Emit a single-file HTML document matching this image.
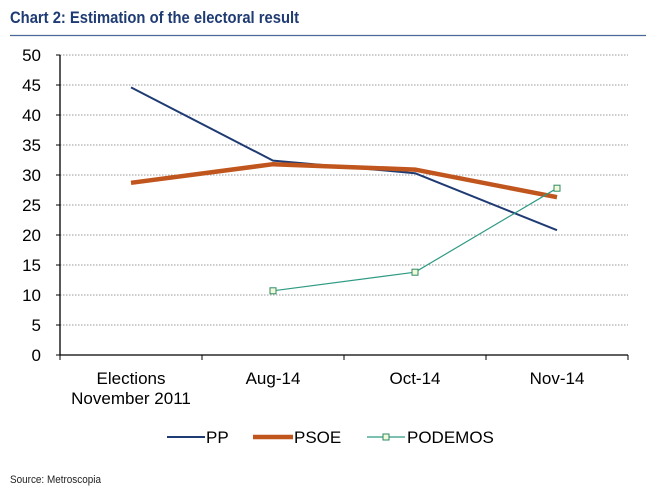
<!DOCTYPE html>
<html><head><meta charset="utf-8"><style>
body{margin:0;background:#fff;width:646px;height:493px;overflow:hidden;font-family:"Liberation Sans",sans-serif}
</style></head><body>
<svg width="646" height="493" xmlns="http://www.w3.org/2000/svg">
<text x="10" y="23" font-size="17" font-weight="bold" fill="#1f3b73" textLength="289" lengthAdjust="spacingAndGlyphs">Chart 2: Estimation of the electoral result</text>
<line x1="10" y1="35.5" x2="646" y2="35.5" stroke="#4a6a96" stroke-width="1.2"/>
<g id="grid"></g><g id="axes"></g><g id="series"></g>
<g font-size="17" fill="#000">
<line x1="167" y1="437" x2="205" y2="437" stroke="#1f3b73" stroke-width="2"/>
<text x="206" y="443">PP</text>
<line x1="253" y1="437" x2="293" y2="437" stroke="#c0561e" stroke-width="4.5"/>
<text x="294" y="443">PSOE</text>
<line x1="367" y1="437" x2="405" y2="437" stroke="#2e9a83" stroke-width="1.2"/>
<rect x="383" y="434" width="6" height="6" fill="#f2fbd8" stroke="#2e8a6a"/>
<text x="407" y="443">PODEMOS</text>
</g>
<text x="10" y="483" font-size="11" fill="#222" textLength="91" lengthAdjust="spacingAndGlyphs">Source: Metroscopia</text>
</svg>
<script>
const categories=[["Elections","November 2011"],["Aug-14"],["Oct-14"],["Nov-14"]];
const yTicks=[0,5,10,15,20,25,30,35,40,45,50];
const pp=[44.6,32.4,30.3,20.8];
const psoe=[28.7,31.8,30.9,26.3];
const podemos=[null,10.7,13.8,27.8];
const NS="http://www.w3.org/2000/svg";
const L=60,R=628,T=55,B=355,yMax=50;
const band=(R-L)/categories.length;
const x=i=>L+band*(i+0.5);
const y=v=>B-(v/yMax)*(B-T);
function mk(tag,at,parent){const e=document.createElementNS(NS,tag);for(const k in at)e.setAttribute(k,at[k]);document.getElementById(parent).appendChild(e);return e;}
yTicks.forEach(t=>{
  if(t>0){const g=mk('line',{x1:L,x2:R,y1:y(t),y2:y(t),stroke:'#999','stroke-dasharray':'1.5,1.5','stroke-width':1},'grid');
  
  }
  const tk=mk('line',{x1:L-4,x2:L,y1:y(t),y2:y(t),stroke:'#000'},'axes');
  
  
  const lb=mk('text',{x:L-19,y:y(t)+6,'font-size':17,'text-anchor':'end'},'axes');
  lb.textContent=t;
  
  
});
const ya=mk('line',{x1:L,x2:L,y1:T,y2:B,stroke:'#000','stroke-width':1.3},'axes');


const xa=mk('line',{x1:L,x2:R,y1:B,y2:B,stroke:'#000','stroke-width':1.3},'axes');


for(let i=0;i<=categories.length;i++){const tk=mk('line',{x1:L+band*i,x2:L+band*i,y1:B,y2:B+5,stroke:'#000'},'axes');

}
categories.forEach((c,i)=>{c.forEach((s,j)=>{const t=mk('text',{x:x(i),y:384+j*20,'font-size':17,'text-anchor':'middle'},'axes');t.textContent=s;

});});
function line(vals,color,w,name){
  const pts=vals.map((v,i)=>v==null?null:x(i)+','+y(v)).filter(p=>p);
  const p=mk('polyline',{points:pts.join(' '),fill:'none',stroke:color,'stroke-width':w,'stroke-linejoin':'round'},'series');
  
  
}
line(pp,'#1f3b73',2,'pp');
line(psoe,'#c0561e',4.5,'psoe');
line(podemos,'#2e9a83',1.2,'podemos');
podemos.forEach((v,i)=>{if(v==null)return;const r=mk('rect',{x:x(i)-3,y:y(v)-3,width:6,height:6,fill:'#f2fbd8',stroke:'#2e8a6a'},'series');

});
</script>
</body></html>
